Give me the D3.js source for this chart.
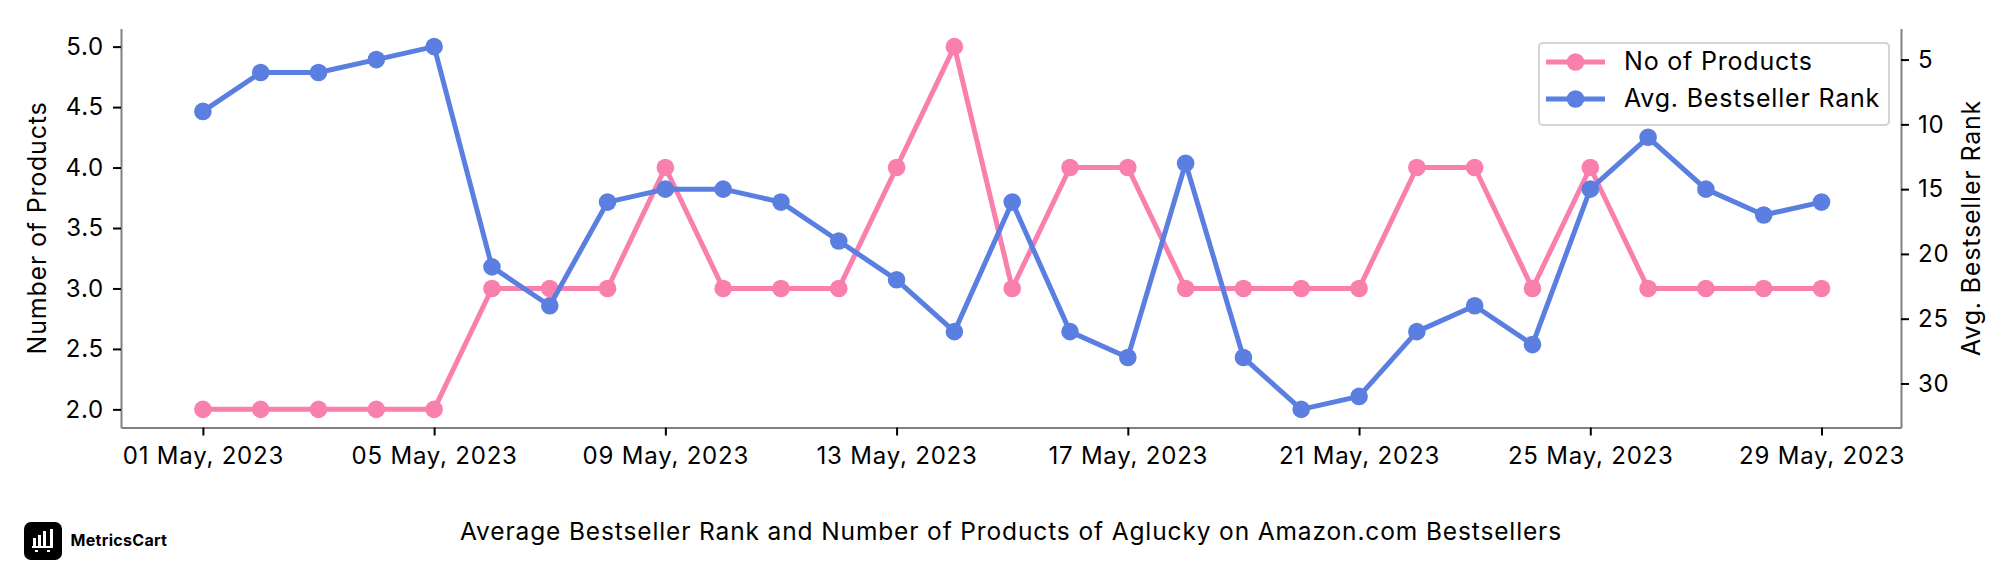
<!DOCTYPE html>
<html>
<head>
<meta charset="utf-8">
<script src="https://cdn.jsdelivr.net/npm/d3@7"></script>
<style>
body { margin: 0; background: #fff; }
svg text { font-family: Inter, "Noto Sans", sans-serif; fill: #000; letter-spacing: 0.8px; }
</style>
</head>
<body>
<div id="chart"></div>
<script>
//one value per day, 01 May to 29 May 2023
var days = ["2023-05-01", "2023-05-02", "2023-05-03", "2023-05-04", "2023-05-05", "2023-05-06", "2023-05-07", "2023-05-08", "2023-05-09", "2023-05-10",
    "2023-05-11", "2023-05-12", "2023-05-13", "2023-05-14", "2023-05-15", "2023-05-16", "2023-05-17", "2023-05-18", "2023-05-19", "2023-05-20",
    "2023-05-21", "2023-05-22", "2023-05-23", "2023-05-24", "2023-05-25", "2023-05-26", "2023-05-27", "2023-05-28", "2023-05-29"]
var products = [2, 2, 2, 2, 2, 3, 3, 3, 4, 3, 3, 3, 4, 5, 3, 4, 4, 3, 3, 3, 3, 4, 4, 3, 4, 3, 3, 3, 3]
var ranks = [9, 6, 6, 5, 4, 21, 24, 16, 15, 15, 16, 19, 22, 26, 16, 26, 28, 13, 28, 32, 31, 26, 24, 27, 15, 11, 15, 17, 16]
var productTicks = [2, 2.5, 3, 3.5, 4, 4.5, 5]
var rankTicks = [5, 10, 15, 20, 25, 30]
var dateTicks = ["2023-05-01", "2023-05-05", "2023-05-09", "2023-05-13", "2023-05-17", "2023-05-21", "2023-05-25", "2023-05-29"]
var seriesNames = ["No of Products", "Avg. Bestseller Rank"]

var pink = "#f97fad"
var blue = "#5a7fe0"
var fontSize = 24
var labelSize = 25
var parseDay = d3.utcParse("%Y-%m-%d")
var dates = days.map(parseDay)

var dimensions = { width: 2016, height: 576, left: 121, right: 1901, top: 28.5, bottom: 427.5 }

var svg = d3.select("#chart")
    .append("svg")
    .attr("width", dimensions.width)
    .attr("height", dimensions.height)
    .style("display", "block")

// 5% margin either side, the way the source plot pads its axes
var x = d3.scaleUtc()
    .domain([d3.utcHour.offset(dates[0], -33.6), d3.utcHour.offset(dates[28], 33.6)])
    .range([dimensions.left, dimensions.right])
var yProducts = d3.scaleLinear().domain([1.85, 5.15]).range([dimensions.bottom, dimensions.top])
var yRank = d3.scaleLinear().domain([33.4, 2.6]).range([dimensions.bottom, dimensions.top])

function styleAxis(g) {
    g.selectAll(".domain").attr("stroke", "#808080").attr("stroke-width", 2)
    g.selectAll(".tick line").attr("stroke", "#000").attr("stroke-width", 2)
    g.selectAll(".tick text").attr("font-size", fontSize).attr("font-family", null)
}

svg.append("g")
    .attr("transform", "translate(0," + dimensions.bottom + ")")
    .call(d3.axisBottom(x).tickValues(dateTicks.map(parseDay)).tickSize(8).tickSizeOuter(0).tickPadding(11).tickFormat(d3.utcFormat("%d %b, %Y")))
    .call(styleAxis)

svg.append("g")
    .attr("transform", "translate(" + dimensions.left + ",0)")
    .call(d3.axisLeft(yProducts).tickValues(productTicks).tickSize(8).tickSizeOuter(0).tickPadding(9).tickFormat(d3.format(".1f")))
    .call(styleAxis)

svg.append("g")
    .attr("transform", "translate(" + dimensions.right + ",0)")
    .call(d3.axisRight(yRank).tickValues(rankTicks).tickSize(8).tickSizeOuter(0).tickPadding(9))
    .call(styleAxis)

function drawSeries(values, scale, color) {
    var line = d3.line()
        .x(function (d, i) { return x(dates[i]) })
        .y(function (d) { return scale(d) })
    svg.append("path")
        .datum(values)
        .attr("d", line)
        .attr("fill", "none")
        .attr("stroke", color)
        .attr("stroke-width", 5)
        .attr("stroke-linejoin", "round")
    svg.selectAll()
        .data(values)
        .enter()
        .append("circle")
        .attr("cx", function (d, i) { return x(dates[i]) })
        .attr("cy", function (d) { return scale(d) })
        .attr("r", 8.8)
        .attr("fill", color)
}
drawSeries(products, yProducts, pink)
drawSeries(ranks, yRank, blue)

svg.append("text")
    .attr("transform", "translate(39,228) rotate(-90)")
    .attr("text-anchor", "middle")
    .attr("dominant-baseline", "middle")
    .attr("font-size", labelSize)
    .text("Number of Products")
svg.append("text")
    .attr("transform", "translate(1973,228) rotate(-90)")
    .attr("text-anchor", "middle")
    .attr("dominant-baseline", "middle")
    .attr("font-size", labelSize)
    .text("Avg. Bestseller Rank")

// legend
var legend = svg.append("g")
legend.append("rect")
    .attr("x", 1539).attr("y", 43)
    .attr("width", 350).attr("height", 82)
    .attr("rx", 4)
    .attr("fill", "#fff").attr("fill-opacity", 0.8)
    .attr("stroke", "#d4d4d4").attr("stroke-width", 2)
seriesNames.forEach(function (name, i) {
    var rowY = 62 + i * 37
    var color = i == 0 ? pink : blue
    legend.append("line")
        .attr("x1", 1546).attr("x2", 1605)
        .attr("y1", rowY).attr("y2", rowY)
        .attr("stroke", color).attr("stroke-width", 5)
    legend.append("circle")
        .attr("cx", 1575.5).attr("cy", rowY).attr("r", 8.8)
        .attr("fill", color)
    legend.append("text")
        .attr("x", 1624).attr("y", rowY + 1)
        .attr("dominant-baseline", "middle")
        .attr("font-size", labelSize)
        .text(name)
})

// caption and logo
svg.append("text")
    .attr("x", 1011).attr("y", 533)
    .attr("text-anchor", "middle")
    .attr("dominant-baseline", "middle")
    .attr("font-size", 24.5)
    .style("letter-spacing", "0.87px")
    .text("Average Bestseller Rank and Number of Products of Aglucky on Amazon.com Bestsellers")

var logo = svg.append("g")
logo.append("rect").attr("x", 24).attr("y", 522).attr("width", 38).attr("height", 38).attr("rx", 7).attr("fill", "#000")
// cart icon: bars, handle, base, wheels
var logoBars = [[33, 538, 3, 8], [38, 535, 3, 11], [43, 531, 3, 15], [50, 529, 3, 19], [32, 546, 21, 2], [35, 550, 3, 2], [47, 550, 3, 2]]
logoBars.forEach(function (b) {
    logo.append("rect").attr("x", b[0]).attr("y", b[1]).attr("width", b[2]).attr("height", b[3]).attr("fill", "#fff")
})
svg.append("text")
    .attr("x", 70.5).attr("y", 542)
    .attr("dominant-baseline", "middle")
    .attr("font-size", 16)
    .attr("font-weight", 700)
    .style("letter-spacing", "0.3px")
    .text("MetricsCart")
</script>
</body>
</html>
